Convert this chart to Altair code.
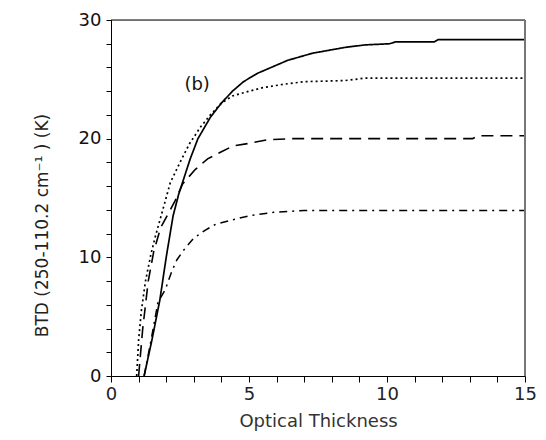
import altair as alt
import pandas as pd

# Solid curve
solid_x = [1.2, 1.48, 1.77, 2.0, 2.25, 2.45, 2.87, 3.15, 3.6, 4.0, 4.4, 4.8, 5.3, 5.7, 6.4, 7.3, 8.5, 9.2, 10.1, 10.3, 11.7, 11.85, 15.0]
solid_y = [0.0, 3.0, 6.4, 10.0, 13.5, 15.3, 18.3, 20.0, 21.8, 23.0, 24.0, 24.8, 25.5, 25.9, 26.6, 27.2, 27.7, 27.9, 28.0, 28.15, 28.15, 28.35, 28.35]

# Dotted curve
dotted_x = [0.93, 1.0, 1.1, 1.25, 1.45, 1.6, 1.9, 2.15, 2.5, 2.85, 3.25, 3.6, 4.0, 4.4, 5.0, 5.5, 6.3, 7.0, 8.5, 9.2, 15.0]
dotted_y = [0.0, 3.0, 5.5, 8.0, 10.3, 11.7, 14.2, 16.3, 18.0, 19.6, 21.0, 22.0, 23.0, 23.6, 24.0, 24.3, 24.6, 24.8, 24.9, 25.1, 25.1]

# Dashed curve
dashed_x = [1.0, 1.15, 1.35, 1.55, 1.8, 2.15, 2.33, 2.6, 3.05, 3.5, 4.0, 4.44, 5.0, 5.65, 6.5, 7.5, 13.1, 13.3, 15.0]
dashed_y = [0.0, 4.0, 8.0, 10.5, 12.5, 14.0, 14.8, 16.2, 17.4, 18.3, 18.9, 19.4, 19.6, 19.9, 20.0, 20.0, 20.0, 20.25, 20.25]

# Dash-dot curve
dashdot_x = [1.2, 1.45, 1.7, 1.97, 2.2, 2.39, 2.63, 2.99, 3.42, 3.8, 4.3, 5.0, 5.9, 7.0, 15.0]
dashdot_y = [0.0, 3.0, 6.2, 7.3, 8.8, 9.8, 10.6, 11.6, 12.3, 12.8, 13.1, 13.5, 13.8, 13.95, 13.95]

x_ticks = list(range(0, 16))
y_ticks = list(range(0, 31, 2))

FONT = "DejaVu Sans"

x_axis = alt.Axis(
    values=x_ticks,
    labelExpr="datum.value % 5 == 0 ? datum.label : ''",
    labelOverlap=False,
    labelFlush=False,
    labelBound=False,
    title="Optical Thickness",
    grid=False,
    tickSize=6,
    labelPadding=3,
    titlePadding=9,
    labelFontSize=18,
    titleFontSize=18,
    labelFont=FONT,
    titleFont=FONT,
    titleFontWeight="normal",
    labelColor="#222",
    titleColor="#333",
    domainColor="black",
    tickColor="black",
)
y_axis = alt.Axis(
    values=y_ticks,
    labelExpr="datum.value % 10 == 0 ? datum.label : ''",
    labelOverlap=False,
    labelFlush=False,
    labelBound=False,
    title="BTD (250-110.2 cm\u207b\u00b9 ) (K)",
    grid=False,
    tickSize=5,
    labelPadding=5,
    titlePadding=27,
    titleY=205,
    labelFontSize=18,
    titleFontSize=17,
    labelFont=FONT,
    titleFont=FONT,
    titleFontWeight="normal",
    labelColor="#111",
    titleColor="#222",
    domainColor="black",
    tickColor="black",
)
x_scale = alt.Scale(domain=[0, 15], nice=False, zero=False)
y_scale = alt.Scale(domain=[0, 30], nice=False, zero=False)


def X(field="x"):
    return alt.X(f"{field}:Q", scale=x_scale, axis=x_axis)


def Y(field="y"):
    return alt.Y(f"{field}:Q", scale=y_scale, axis=y_axis)


def curve(xs, ys, dash, width):
    df = pd.DataFrame({"x": xs, "y": ys})
    mark = alt.Chart(df).mark_line(color="black", strokeWidth=width, strokeDash=dash, clip=True)
    return mark.encode(x=X(), y=Y())


solid = curve(solid_x, solid_y, [1, 0], 1.7)
dotted = curve(dotted_x, dotted_y, [2, 3], 1.7)
dashed = curve(dashed_x, dashed_y, [12, 7], 1.6)
dashdot = curve(dashdot_x, dashdot_y, [8, 5, 2, 5], 1.5)

top_rule = alt.Chart(pd.DataFrame({"x": [0], "x2": [15], "y": [30]})).mark_rule(
    color="black", strokeWidth=1
).encode(x=X(), x2="x2:Q", y=Y())
right_rule = alt.Chart(pd.DataFrame({"x": [15], "y": [0], "y2": [30]})).mark_rule(
    color="#777", strokeWidth=2
).encode(x=X(), y=Y(), y2="y2:Q")

label_b = alt.Chart(pd.DataFrame({"x": [3.12], "y": [24.5], "t": ["(b)"]})).mark_text(
    fontSize=18, font=FONT, color="#111"
).encode(x=X(), y=Y(), text="t:N")

chart = (
    alt.layer(solid, dotted, dashed, dashdot, top_rule, right_rule, label_b)
    .properties(
        width=414,
        height=356,
        autosize=alt.AutoSizeParams(type="none"),
        padding={"left": 103, "top": 12, "right": 13, "bottom": 55},
    )
    .configure_view(stroke=None)
    .configure(background="white")
)

chart.save("out.html", embed_options={"renderer": "svg", "actions": False})
